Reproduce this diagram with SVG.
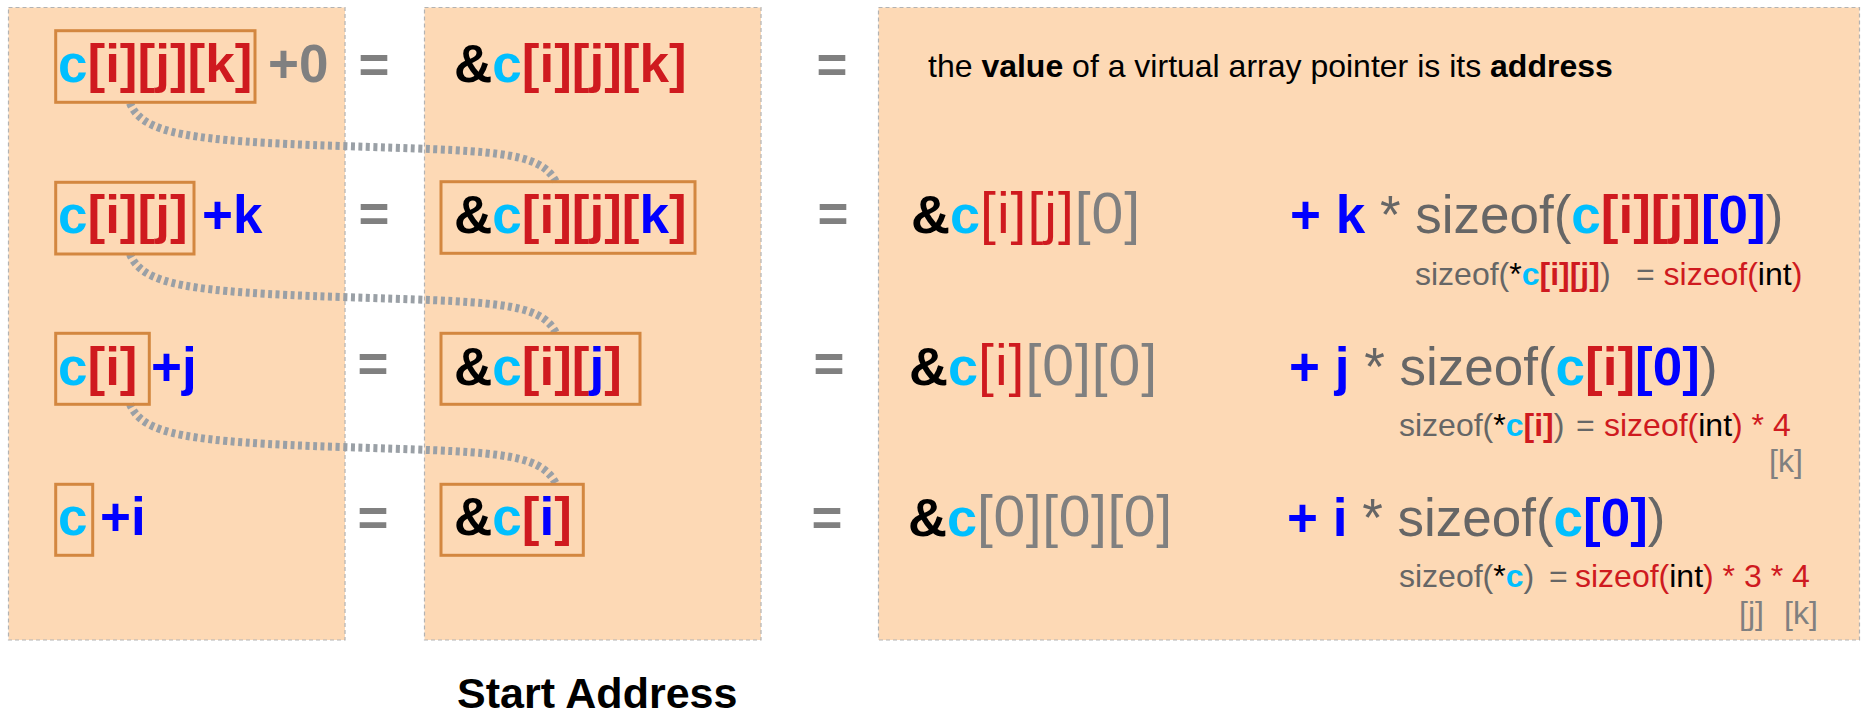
<svg xmlns="http://www.w3.org/2000/svg" width="1863" height="715" viewBox="0 0 1863 715">
<style>
.panel{fill:#fdd9b5;stroke:#b3b3b3;stroke-width:1.2;stroke-dasharray:4 3}
.box{fill:none;stroke:#d38740;stroke-width:3}
.t{font-family:"Liberation Sans",Arial,sans-serif}
.big{font-size:53px;font-weight:bold}
.main{font-size:53px}
.reg{font-size:57px;font-weight:normal}
.sub{font-size:32px}
.b{font-weight:bold}
.ls{letter-spacing:1px}
.cy{fill:#00bfff}
.rd{fill:#cf1a1f}
.bl{fill:#0000ff}
.gy{fill:#808080}
.dg{fill:#666666}
.bk{fill:#000000}
.link{fill:none;stroke:#9aa0a6;stroke-width:8;stroke-dasharray:4 3.5}
</style>
<rect width="1863" height="715" fill="#ffffff"/>
<g id="panels">
<rect id="panel-left" class="panel" x="8.5" y="7.5" width="336.5" height="632.5"/>
<rect id="panel-mid" class="panel" x="424.5" y="7.5" width="336.5" height="632.5"/>
<rect id="panel-right" class="panel" x="878.5" y="7.5" width="981" height="632.5"/>
</g>
<g id="connectors">
<path class="link" d="M130,103 C142,134 190,141 340,146 S540,150 556,182"/>
<path class="link" d="M130,254 C142,285 190,292 340,297 S540,301 556,333"/>
<path class="link" d="M130,404 C142,435 190,442 340,447 S540,451 556,484"/>
</g>
<g id="left-col">
<g id="n-cijk">
<rect class="box" x="55.7" y="30.7" width="199.3" height="71.6"/>
<text class="t big" x="58" y="82"><tspan class="cy">c</tspan><tspan class="rd">[i][j][k]</tspan></text>
<text class="t big gy" x="268" y="82">+0</text>
</g>
<g id="n-cij">
<rect class="box" x="55.7" y="182.3" width="138.3" height="71.7"/>
<text class="t big" x="58" y="233"><tspan class="cy">c</tspan><tspan class="rd">[i][j]</tspan></text>
<text class="t big bl" x="202" y="233">+k</text>
</g>
<g id="n-ci">
<rect class="box" x="55.7" y="333.3" width="93.6" height="71"/>
<text class="t big" x="58" y="385"><tspan class="cy">c</tspan><tspan class="rd">[i]</tspan></text>
<text class="t big bl" x="151" y="385">+j</text>
</g>
<g id="n-c">
<rect class="box" x="55.7" y="484.3" width="37" height="71"/>
<text class="t big cy" x="58" y="535">c</text>
<text class="t big bl" x="100" y="535">+i</text>
</g>
</g>
<g id="eq-col1">
<text class="t big gy" x="374" y="83" text-anchor="middle">=</text>
<text class="t big gy" x="374" y="232" text-anchor="middle">=</text>
<text class="t big gy" x="373" y="382" text-anchor="middle">=</text>
<text class="t big gy" x="373" y="536" text-anchor="middle">=</text>
</g>
<g id="mid-col">
<g id="m-cijk0">
<text class="t big" x="454" y="82"><tspan class="bk">&amp;</tspan><tspan class="cy">c</tspan><tspan class="rd">[i][j][k]</tspan></text>
</g>
<g id="m-cijk">
<rect class="box" x="441" y="181.7" width="254" height="71.6"/>
<text class="t big" x="454" y="233"><tspan class="bk">&amp;</tspan><tspan class="cy">c</tspan><tspan class="rd">[i][j][</tspan><tspan class="bl">k</tspan><tspan class="rd">]</tspan></text>
</g>
<g id="m-cij">
<rect class="box" x="441" y="333.3" width="199" height="71"/>
<text class="t big" x="454" y="385"><tspan class="bk">&amp;</tspan><tspan class="cy">c</tspan><tspan class="rd">[i][</tspan><tspan class="bl">j</tspan><tspan class="rd">]</tspan></text>
</g>
<g id="m-ci">
<rect class="box" x="441" y="484.3" width="142.3" height="71"/>
<text class="t big" x="454" y="535"><tspan class="bk">&amp;</tspan><tspan class="cy">c</tspan><tspan class="rd">[</tspan><tspan class="bl">i</tspan><tspan class="rd">]</tspan></text>
</g>
</g>
<g id="eq-col2">
<text class="t big gy" x="832" y="83" text-anchor="middle">=</text>
<text class="t big gy" x="833" y="232" text-anchor="middle">=</text>
<text class="t big gy" x="829" y="382" text-anchor="middle">=</text>
<text class="t big gy" x="827" y="536" text-anchor="middle">=</text>
</g>
<g id="right-col">
<g id="r-note">
<text class="t bk" x="928" y="77" font-size="32">the <tspan class="b">value</tspan> of a virtual array pointer is its <tspan class="b">address</tspan></text>
</g>
<g id="r-row2">
<text class="t" x="911" y="233" font-size="54"><tspan class="b bk">&amp;</tspan><tspan class="b cy">c</tspan><tspan class="reg ls rd">[i][j]</tspan><tspan class="reg ls gy">[0]</tspan></text>
<text class="t main" x="1290" y="233"><tspan class="b bl">+ k</tspan><tspan class="dg"> * sizeof(</tspan><tspan class="b cy">c</tspan><tspan class="b rd">[i][j]</tspan><tspan class="b bl">[0]</tspan><tspan class="dg">)</tspan></text>
<text class="t sub" x="1415" y="285"><tspan class="dg">sizeof(</tspan><tspan class="bk">*</tspan><tspan class="b cy">c</tspan><tspan class="b rd">[i][j]</tspan><tspan class="dg">)</tspan></text>
<text class="t sub" x="1636" y="285"><tspan class="dg">= </tspan><tspan class="rd">sizeof(</tspan><tspan class="bk">int</tspan><tspan class="rd">)</tspan></text>
</g>
<g id="r-row3">
<text class="t" x="909" y="385" font-size="54"><tspan class="b bk">&amp;</tspan><tspan class="b cy">c</tspan><tspan class="reg ls rd">[i]</tspan><tspan class="reg ls gy">[0][0]</tspan></text>
<text class="t main" x="1289" y="385"><tspan class="b bl">+ j</tspan><tspan class="dg"> * sizeof(</tspan><tspan class="b cy">c</tspan><tspan class="b rd">[i]</tspan><tspan class="b bl">[0]</tspan><tspan class="dg">)</tspan></text>
<text class="t sub" x="1399" y="436"><tspan class="dg">sizeof(</tspan><tspan class="bk">*</tspan><tspan class="b cy">c</tspan><tspan class="b rd">[i]</tspan><tspan class="dg">)</tspan></text>
<text class="t sub" x="1576" y="436"><tspan class="dg">=</tspan></text>
<text class="t sub" x="1604" y="436"><tspan class="rd">sizeof(</tspan><tspan class="bk">int</tspan><tspan class="rd">) * 4</tspan></text>
<text class="t sub gy" x="1769" y="472">[k]</text>
</g>
<g id="r-row4">
<text class="t" x="908" y="536" font-size="54"><tspan class="b bk">&amp;</tspan><tspan class="b cy">c</tspan><tspan class="reg gy" letter-spacing="0.6">[0][0][0]</tspan></text>
<text class="t main" x="1287" y="536"><tspan class="b bl">+ i</tspan><tspan class="dg"> * sizeof(</tspan><tspan class="b cy">c</tspan><tspan class="b bl">[0]</tspan><tspan class="dg">)</tspan></text>
<text class="t sub" x="1399" y="587"><tspan class="dg">sizeof(</tspan><tspan class="bk">*</tspan><tspan class="b cy">c</tspan><tspan class="dg">)</tspan></text>
<text class="t sub" x="1549" y="587"><tspan class="dg">=</tspan></text>
<text class="t sub" x="1575" y="587"><tspan class="rd">sizeof(</tspan><tspan class="bk">int</tspan><tspan class="rd">) * 3 * 4</tspan></text>
<text class="t sub gy" x="1739" y="624">[j]</text>
<text class="t sub gy" x="1784" y="624">[k]</text>
</g>
</g>
<g id="caption">
<text class="t b bk" x="457" y="708" font-size="43">Start Address</text>
</g>
</svg>
